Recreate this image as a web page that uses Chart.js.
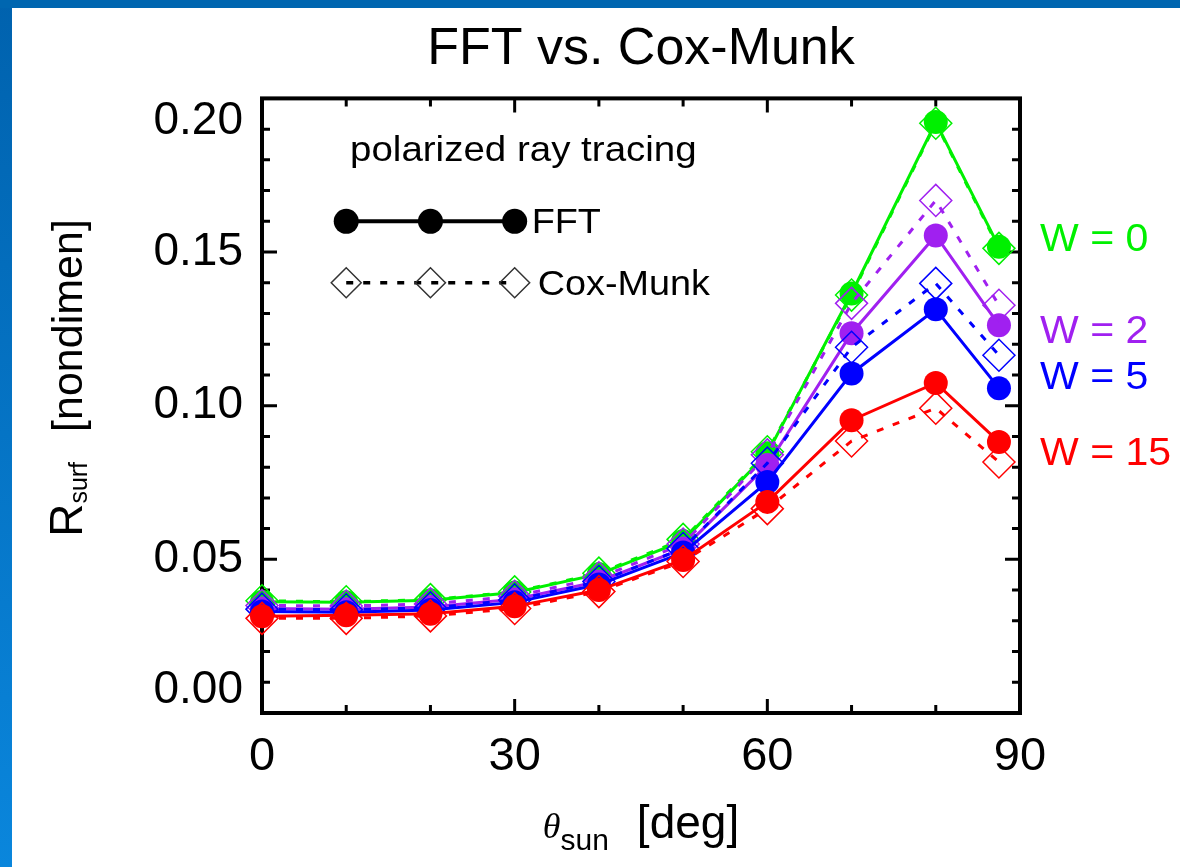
<!DOCTYPE html>
<html>
<head>
<meta charset="utf-8">
<script src="https://cdn.jsdelivr.net/npm/chart.js@4.4.0/dist/chart.umd.min.js"></script>
<style>
body{margin:0;background:#fff;}
#wrap{position:relative;width:1180px;height:867px;overflow:hidden;background:#fff;}
#barL{position:absolute;left:0;top:0;width:12px;height:867px;background:linear-gradient(#0062ae,#0a86dc);}
#barT{position:absolute;left:0;top:0;width:1180px;height:8px;background:#0066b0;}
#c{position:absolute;left:0;top:0;}
</style>
</head>
<body>
<div id="wrap"><div id="barL"></div><div id="barT"></div><canvas id="c" width="1180" height="867"></canvas></div>
<script>
// solar zenith angle [deg]
var theta=[0,10,20,30,40,50,60,70,80,87.5];

// R_surf, FFT (solid, filled circles)
var fft_w0 =[0.0362,0.0360,0.0367,0.0392,0.0452,0.0560,0.0845,0.1365,0.1923,0.1517];
var fft_w2 =[0.0340,0.0338,0.0345,0.0370,0.0428,0.0535,0.0807,0.1236,0.1554,0.1262];
var fft_w5 =[0.0330,0.0328,0.0335,0.0360,0.0418,0.0522,0.0752,0.1105,0.1314,0.1057];
var fft_w15=[0.0315,0.0318,0.0323,0.0347,0.0400,0.0498,0.0687,0.0953,0.1074,0.0882];

// R_surf, Cox-Munk (dashed, open diamonds)
var cox_w0 =[0.0365,0.0362,0.0369,0.0394,0.0455,0.0565,0.0850,0.1360,0.1919,0.1512];
var cox_w2 =[0.0350,0.0348,0.0355,0.0380,0.0440,0.0550,0.0840,0.1333,0.1668,0.1327];
var cox_w5 =[0.0338,0.0336,0.0342,0.0368,0.0428,0.0535,0.0813,0.1190,0.1398,0.1164];
var cox_w15=[0.0308,0.0308,0.0316,0.0340,0.0395,0.0493,0.0665,0.0885,0.0992,0.0817];

var windLabels=['W = 0','W = 2','W = 5','W = 15'];
var windColors=['#00f000','#a020f0','#0000ff','#ff0000'];
var fftSets=[fft_w0,fft_w2,fft_w5,fft_w15];
var coxSets=[cox_w0,cox_w2,cox_w5,cox_w15];
// where the W labels sit on the right (y value)
var windLabelY=[0.1545,0.1245,0.1098,0.0848];

Chart.defaults.font.family="'Liberation Sans', Arial, Helvetica, sans-serif";
Chart.defaults.color='#000';

function pts(ys){
	var out=[];
	for(var i=0;i<theta.length;i++){ out.push({x:theta[i],y:ys[i]}); }
	return out;
}

var datasets=[];
var ord=8;
for(var k=0;k<windLabels.length;k++){
	datasets.push({
		label:windLabels[k]+' FFT',
		data:pts(fftSets[k]),
		borderColor:windColors[k],
		borderWidth:3,
		pointStyle:'circle',
		pointRadius:12,
		pointBackgroundColor:windColors[k],
		pointBorderWidth:0,
		clip:false,
		order:ord--
	});
	datasets.push({
		label:windLabels[k]+' Cox-Munk',
		data:pts(coxSets[k]),
		borderColor:windColors[k],
		borderWidth:3,
		borderDash:[7,10],
		pointStyle:'rectRot',
		pointRadius:16,
		pointBackgroundColor:'rgba(0,0,0,0)',
		pointBorderColor:windColors[k],
		pointBorderWidth:1.5,
		clip:false,
		order:ord--
	});
}

function drawParts(ctx,parts){
	var total=0;
	for(var i=0;i<parts.length;i++){
		ctx.font=parts[i].font;
		parts[i].w=ctx.measureText(parts[i].t).width+(parts[i].gap||0);
		total+=parts[i].w;
	}
	var x=-total/2;
	for(var j=0;j<parts.length;j++){
		ctx.font=parts[j].font;
		ctx.fillText(parts[j].t,x+(parts[j].gap||0),parts[j].dy||0);
		x+=parts[j].w;
	}
}

function stretchText(ctx,t,x,y,sx){
	ctx.save();
	ctx.translate(x,y);
	ctx.scale(sx,1);
	ctx.fillText(t,0,0);
	ctx.restore();
}

var boxPlugin={
	id:'box',
	beforeDatasetsDraw:function(chart){
		var ctx=chart.ctx, a=chart.chartArea, xs=chart.scales.x, ys=chart.scales.y;
		ctx.save();
		ctx.strokeStyle='#000';
		ctx.lineWidth=4;
		ctx.strokeRect(a.left,a.top,a.right-a.left,a.bottom-a.top);
		ctx.lineWidth=3;
		ctx.beginPath();
		for(var i=1;i<9;i++){
			var px=xs.getPixelForValue(i*10);
			var len=(i%3==0)?14:8;
			ctx.moveTo(px,a.bottom); ctx.lineTo(px,a.bottom-len);
			ctx.moveTo(px,a.top); ctx.lineTo(px,a.top+len);
		}
		for(var j=1;j<20;j++){
			var py=ys.getPixelForValue(j*0.01);
			var l2=(j%5==0)?15:8;
			ctx.moveTo(a.left,py); ctx.lineTo(a.left+l2,py);
			ctx.moveTo(a.right,py); ctx.lineTo(a.right-l2,py);
		}
		ctx.stroke();
		ctx.restore();
	},
	afterDraw:function(chart){
		var ctx=chart.ctx, a=chart.chartArea, xs=chart.scales.x, ys=chart.scales.y;
		ctx.save();
		ctx.fillStyle='#000';
		ctx.textBaseline='alphabetic';
		ctx.textAlign='left';

		// legend block
		ctx.font="35px 'Liberation Sans', Arial, sans-serif";
		stretchText(ctx,'polarized ray tracing',350,161,1.1);
		var y1=ys.getPixelForValue(0.16), y2=ys.getPixelForValue(0.14);
		var lx=[xs.getPixelForValue(10),xs.getPixelForValue(20),xs.getPixelForValue(30)];
		ctx.strokeStyle='#000';
		ctx.lineWidth=4;
		ctx.beginPath(); ctx.moveTo(lx[0],y1); ctx.lineTo(lx[2],y1); ctx.stroke();
		ctx.lineWidth=3.5;
		ctx.setLineDash([7,10]);
		ctx.beginPath(); ctx.moveTo(lx[0],y2); ctx.lineTo(lx[2],y2); ctx.stroke();
		ctx.setLineDash([]);
		for(var i=0;i<3;i++){
			ctx.fillStyle='#000';
			Chart.helpers.drawPoint(ctx,{pointStyle:'circle',radius:12.5,borderWidth:0},lx[i],y1);
			ctx.lineWidth=1.5;
			ctx.strokeStyle='#333';
			ctx.fillStyle='rgba(0,0,0,0)';
			Chart.helpers.drawPoint(ctx,{pointStyle:'rectRot',radius:15,borderWidth:1.5},lx[i],y2);
		}
		ctx.fillStyle='#000';
		ctx.font="35px 'Liberation Sans', Arial, sans-serif";
		stretchText(ctx,'FFT',lx[2]+17,y1+12,1.08);
		stretchText(ctx,'Cox-Munk',lx[2]+23,y2+12,1.08);

		// wind speed labels
		ctx.font="38px 'Liberation Sans', Arial, sans-serif";
		for(var k=0;k<windLabels.length;k++){
			ctx.fillStyle=windColors[k];
			stretchText(ctx,windLabels[k],a.right+20,ys.getPixelForValue(windLabelY[k])+13,1.08);
		}

		// axis titles
		ctx.fillStyle='#000';
		ctx.save();
		ctx.translate(82,378);
		ctx.rotate(-Math.PI/2);
		drawParts(ctx,[
			{t:'R',font:"46px 'Liberation Sans', Arial, sans-serif"},
			{t:'surf',font:"25px 'Liberation Sans', Arial, sans-serif",dy:5},
			{t:'[nondimen]',font:"43px 'Liberation Sans', Arial, sans-serif",gap:30}
		]);
		ctx.restore();

		ctx.save();
		ctx.translate((a.left+a.right)/2,838);
		drawParts(ctx,[
			{t:'\u03b8',font:"italic 36px 'Liberation Serif', serif"},
			{t:'sun',font:"30px 'Liberation Sans', Arial, sans-serif",dy:12},
			{t:'[deg]',font:"46px 'Liberation Sans', Arial, sans-serif",gap:28}
		]);
		ctx.restore();
		ctx.restore();
	}
};

var ctx=document.getElementById('c').getContext('2d');
var chart=new Chart(ctx,{
	type:'line',
	data:{datasets:datasets},
	options:{
		responsive:false,
		animation:false,
		devicePixelRatio:1,
		layout:{padding:{left:0,top:0,right:160,bottom:0}},
		plugins:{
			legend:{display:false},
			tooltip:{enabled:false},
			title:{
				display:true,
				text:'FFT vs. Cox-Munk',
				fullSize:false,
				font:{size:52,weight:'normal'},
				color:'#000',
				padding:{top:18,bottom:18}
			}
		},
		scales:{
			x:{
				type:'linear',
				min:0,max:90,
				grid:{display:false,drawTicks:false},
				border:{display:false},
				ticks:{stepSize:30,font:{size:47},padding:16,color:'#000',maxRotation:0},
				afterFit:function(s){ s.height=154; }
			},
			y:{
				min:0,max:0.2,
				grid:{display:false,drawTicks:false},
				border:{display:false},
				ticks:{
					stepSize:0.05,
					font:{size:46,lineHeight:1},
					padding:19,
					color:'#000',
					callback:function(v){
						if(Math.abs(v-0.2)<1e-9) return ['','0.20'];
						if(Math.abs(v)<1e-9) return ['0.00',''];
						return v.toFixed(2);
					}
				},
				afterFit:function(s){ s.width=262; }
			}
		}
	},
	plugins:[boxPlugin]
});
</script>
</body>
</html>
